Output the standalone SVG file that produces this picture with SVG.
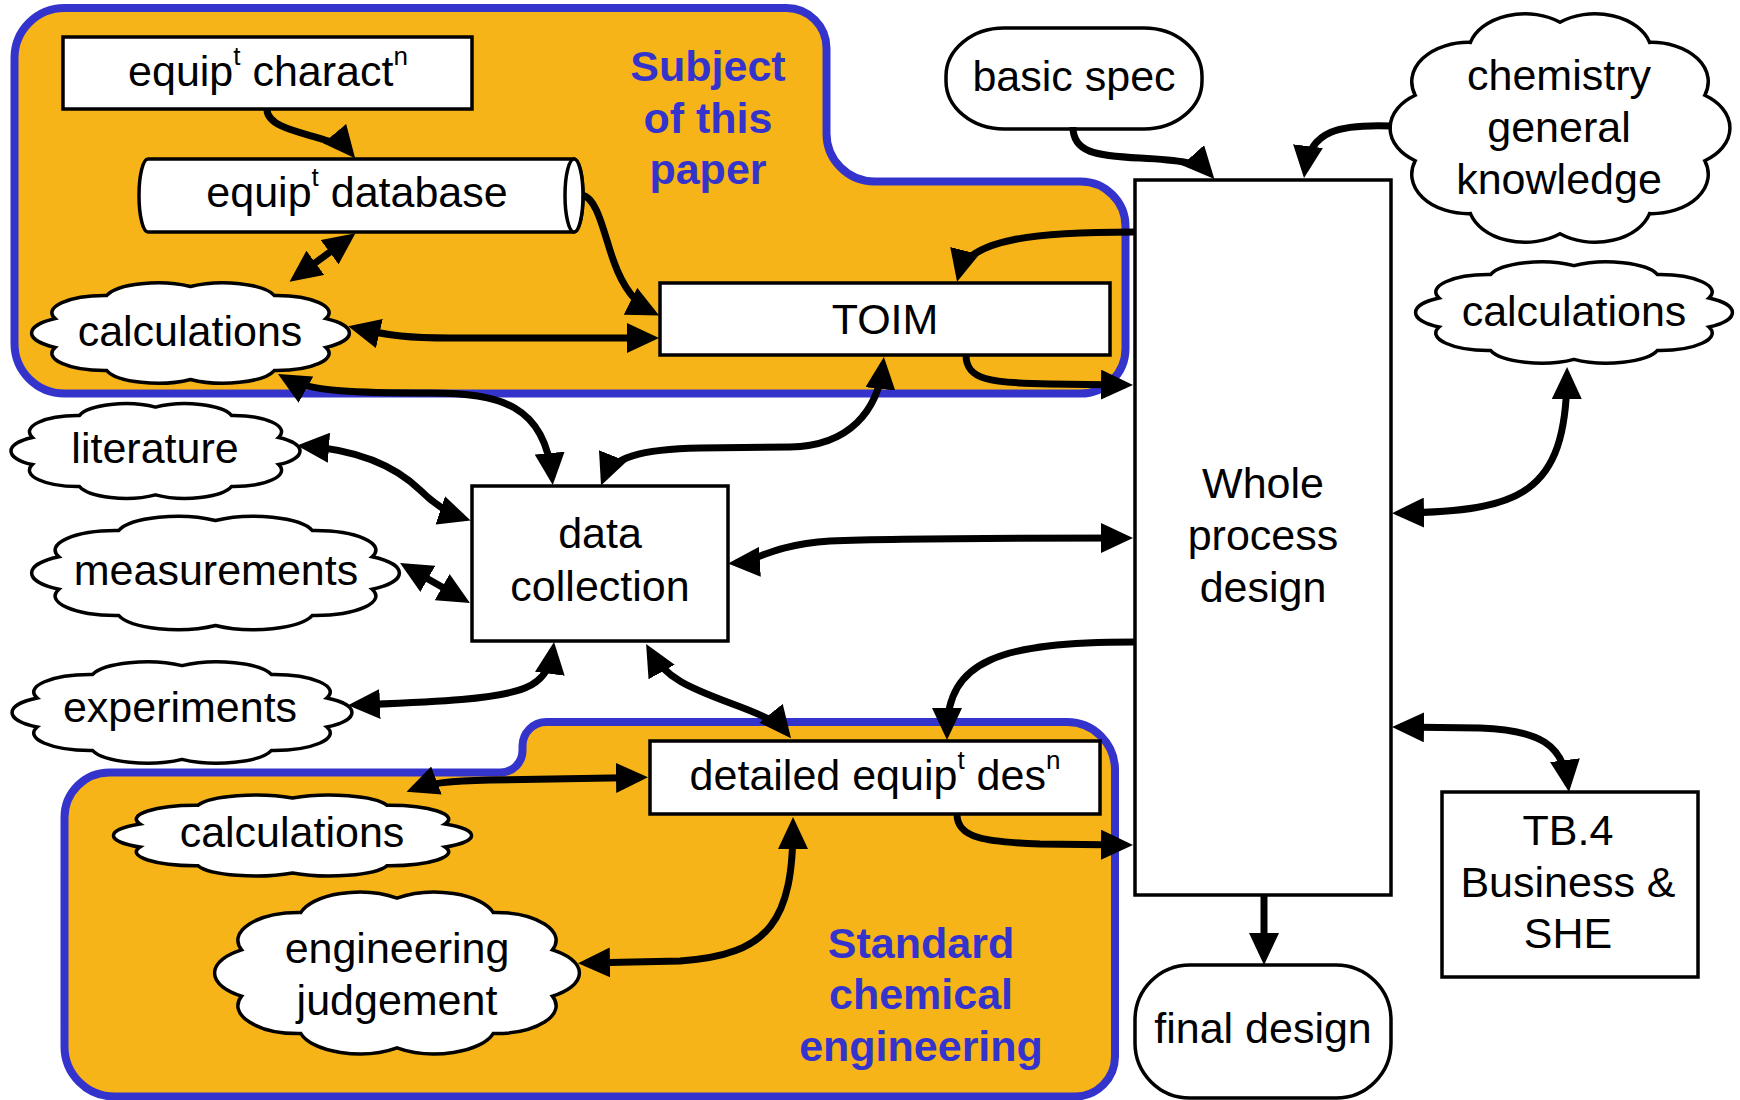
<svg xmlns="http://www.w3.org/2000/svg" xmlns:xlink="http://www.w3.org/1999/xlink" width="1740" height="1100" viewBox="0 0 1740 1100">
<style>
.region { fill: #F6B419; stroke: #3434CC; stroke-width: 8; }
.box { fill: #fff; stroke: #000; stroke-width: 3.5; }
.t { font-family: "Liberation Sans", Arial, sans-serif; font-size: 43px; fill: #000; text-anchor: middle; }
.sup { font-size: 26px; }
.bl { font-family: "Liberation Sans", Arial, sans-serif; font-size: 43px; font-weight: bold; fill: #3434CC; text-anchor: middle; }
.c { fill: none; stroke: #000; stroke-width: 7; }
.e { marker-end: url(#ah); }
.b { marker-start: url(#ah); marker-end: url(#ah); }
</style>
<defs>
<marker id="ah" viewBox="0 0 32 30" markerWidth="32" markerHeight="30" markerUnits="userSpaceOnUse" refX="24" refY="15" orient="auto-start-reverse">
<path d="M0,0 L32,15 L0,30 Z" fill="#000"/>
</marker>
<path id="cloud" vector-effect="non-scaling-stroke" fill="#fff" stroke="#000" stroke-width="3.5" d="M 9.1,36.7 A 16 16 0 0 1 24.7,15.2 A 16 16 0 0 1 50,7 A 16 16 0 0 1 75.3,15.2 A 16 16 0 0 1 90.9,36.7 A 16 16 0 0 1 90.9,63.3 A 16 16 0 0 1 75.3,84.8 A 16 16 0 0 1 50,93 A 16 16 0 0 1 24.7,84.8 A 16 16 0 0 1 9.1,63.3 A 16 16 0 0 1 9.1,36.7 Z"/>
</defs>

<g id="region-subject">
<path class="region" d="M 64.5,8 H 786.5 A 40 40 0 0 1 826.5,48 V 133.5 A 48 48 0 0 0 874.5,181.5 H 1080.5 A 45 45 0 0 1 1125.5,226.5 V 348.5 A 45 45 0 0 1 1080.5,393.5 H 64.5 A 50 50 0 0 1 14.5,343.5 V 58 A 50 50 0 0 1 64.5,8 Z"/>
<text class="bl" x="708" y="81">Subject</text>
<text class="bl" x="708" y="133">of this</text>
<text class="bl" x="708" y="184">paper</text>
</g>
<g id="region-standard">
<path class="region" d="M 109.5,772.5 H 500.5 A 22 22 0 0 0 522.5,750.5 V 746 A 24 24 0 0 1 546.5,722 H 1067 A 48 48 0 0 1 1115,770 V 1056.5 A 40 40 0 0 1 1075,1096.5 H 114.5 A 50 50 0 0 1 64.5,1046.5 V 817.5 A 45 45 0 0 1 109.5,772.5 Z"/>
<text class="bl" x="921" y="958">Standard</text>
<text class="bl" x="921" y="1009">chemical</text>
<text class="bl" x="921" y="1061">engineering</text>
</g>

<g id="equip-charact">
<rect class="box" x="63" y="37" width="409" height="72"/>
<text class="t" x="268" y="86">equip<tspan class="sup" dy="-21">t</tspan><tspan dy="21"> charact</tspan><tspan class="sup" dy="-21">n</tspan></text>
</g>
<g id="equip-database">
<path class="box" d="M 148,159 H 574 A 9 36.5 0 0 1 574,232 H 148 A 9 36.5 0 0 1 148,159 Z"/>
<ellipse class="box" cx="574" cy="195.5" rx="9" ry="36.5"/>
<text class="t" x="357" y="207">equip<tspan class="sup" dy="-21">t</tspan><tspan dy="21"> database</tspan></text>
</g>
<g id="calc-top">
<use xlink:href="#cloud" href="#cloud" transform="translate(25,279) scale(3.31,1.08)"/>
<text class="t" x="190" y="346">calculations</text>
</g>
<g id="toim">
<rect class="box" x="660" y="283" width="450" height="72"/>
<text class="t" x="885" y="334">TOIM</text>
</g>
<g id="basic-spec">
<rect class="box" x="946" y="28" width="256" height="101" rx="58" ry="48"/>
<text class="t" x="1074" y="91">basic spec</text>
</g>
<g id="chemistry">
<use xlink:href="#cloud" href="#cloud" transform="translate(1383,5) scale(3.54,2.46)"/>
<text class="t" x="1559" y="90">chemistry</text>
<text class="t" x="1559" y="142">general</text>
<text class="t" x="1559" y="194">knowledge</text>
</g>
<g id="whole-process">
<rect class="box" x="1135" y="180" width="256" height="715"/>
<text class="t" x="1263" y="498">Whole</text>
<text class="t" x="1263" y="550">process</text>
<text class="t" x="1263" y="602">design</text>
</g>
<g id="calc-right">
<use xlink:href="#cloud" href="#cloud" transform="translate(1409,258) scale(3.3,1.09)"/>
<text class="t" x="1574" y="326">calculations</text>
</g>
<g id="literature">
<use xlink:href="#cloud" href="#cloud" transform="translate(5,400) scale(3.01,1.02)"/>
<text class="t" x="155" y="463">literature</text>
</g>
<g id="measurements">
<use xlink:href="#cloud" href="#cloud" transform="translate(24,512) scale(3.83,1.22)"/>
<text class="t" x="216" y="585">measurements</text>
</g>
<g id="experiments">
<use xlink:href="#cloud" href="#cloud" transform="translate(5,658) scale(3.54,1.09)"/>
<text class="t" x="180" y="722">experiments</text>
</g>
<g id="data-collection">
<rect class="box" x="472" y="486" width="256" height="155"/>
<text class="t" x="600" y="548">data</text>
<text class="t" x="600" y="601">collection</text>
</g>
<g id="detailed-design">
<rect class="box" x="650" y="741" width="450" height="73"/>
<text class="t" x="875" y="790">detailed equip<tspan class="sup" dy="-21">t</tspan><tspan dy="21"> des</tspan><tspan class="sup" dy="-21">n</tspan></text>
</g>
<g id="calc-bottom">
<use xlink:href="#cloud" href="#cloud" transform="translate(106,792) scale(3.73,0.87)"/>
<text class="t" x="292" y="847">calculations</text>
</g>
<g id="eng-judgement">
<use xlink:href="#cloud" href="#cloud" transform="translate(207,886) scale(3.8,1.74)"/>
<text class="t" x="397" y="963">engineering</text>
<text class="t" x="397" y="1015">judgement</text>
</g>
<g id="tb4">
<rect class="box" x="1442" y="792" width="256" height="185"/>
<text class="t" x="1568" y="845">TB.4</text>
<text class="t" x="1568" y="897">Business &amp;</text>
<text class="t" x="1568" y="948">SHE</text>
</g>
<g id="final-design">
<rect class="box" x="1135" y="965" width="256" height="133" rx="55" ry="55"/>
<text class="t" x="1263" y="1043">final design</text>
</g>

<g id="connectors">
<path class="c e" d="M 267,110 C 268,127 300,132 325,140 C 337,144 345,146 350,152"/>
<path class="c b" d="M 296,277 L 349,238"/>
<path class="c e" d="M 582,195 C 598,198 604,235 614,262 C 624,290 638,305 652,312"/>
<path class="c b" d="M 356,328 C 390,336 410,338 450,338 L 651,338"/>
<path class="c b" d="M 285,378 C 310,392 360,393 430,393 C 500,393 545,405 552,477"/>
<path class="c b" d="M 604,478 C 612,458 640,449 700,448 L 790,447 C 850,446 878,410 883,365"/>
<path class="c b" d="M 305,446 C 360,450 395,466 420,490 C 435,505 448,513 463,518"/>
<path class="c b" d="M 407,567 L 463,599"/>
<path class="c b" d="M 356,705 C 430,702 495,700 525,688 C 545,680 551,665 553,650"/>
<path class="c b" d="M 650,651 C 665,678 690,688 730,703 C 760,714 778,722 786,732"/>
<path class="c b" d="M 414,789 C 430,783 450,781 490,780 L 640,777.5"/>
<path class="c b" d="M 793,825 C 793,920 770,955 680,961 L 586,963"/>
<path class="c e" d="M 1073,127 C 1073,152 1095,156 1140,158 C 1180,160 1200,163 1209,173"/>
<path class="c e" d="M 1392,126 C 1340,124 1310,130 1305,170"/>
<path class="c e" d="M 1134,232 C 1040,232 968,238 959,274"/>
<path class="c e" d="M 966,355 C 966,380 990,383 1050,384 L 1125,385"/>
<path class="c b" d="M 736,563 C 755,562 770,545 830,541 C 900,538 1000,538 1125,538"/>
<path class="c e" d="M 1134,642 C 1000,642 947,660 947,732"/>
<path class="c e" d="M 957,814 C 957,838 985,842 1040,844 L 1125,845"/>
<path class="c b" d="M 1567,375 C 1566,495 1520,511 1400,513"/>
<path class="c b" d="M 1400,727 L 1480,728 C 1540,730 1563,745 1568,784"/>
<path class="c e" d="M 1264,895 L 1264,957"/>
</g>
</svg>
